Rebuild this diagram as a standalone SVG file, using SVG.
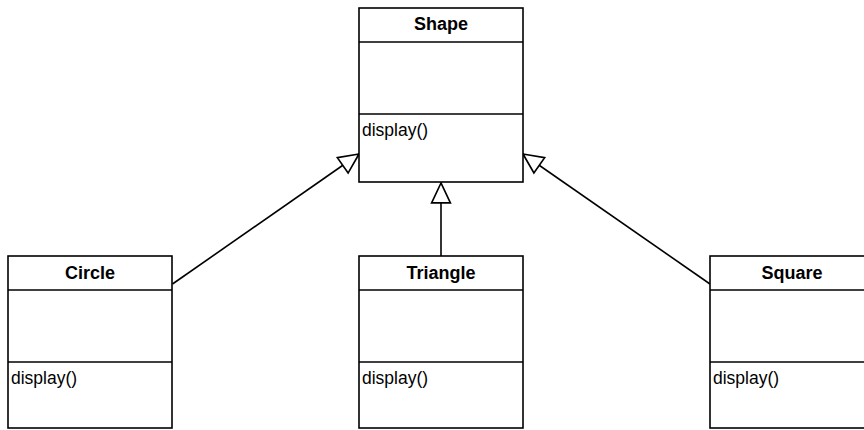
<svg xmlns="http://www.w3.org/2000/svg" width="864" height="430" viewBox="0 0 864 430">
  <style>
    .box { fill: #ffffff; stroke: #000000; stroke-width: 1.6; }
    .sep { stroke: #000000; stroke-width: 1.6; }
    .title { font-family: "Liberation Sans", Arial, sans-serif; font-weight: bold; font-size: 18px; text-anchor: middle; fill: #000000; }
    .op { font-family: "Liberation Sans", Arial, sans-serif; font-size: 17.5px; fill: #000000; }
    .edge { fill: none; stroke: #000000; stroke-width: 1.6; marker-end: url(#generalization); }
  </style>
  <defs>
    <!-- hollow triangle head for inheritance (generalization) -->
    <marker id="generalization" markerUnits="userSpaceOnUse" markerWidth="24" markerHeight="24"
            viewBox="-2 -11 23 22" refX="19" refY="0" orient="auto">
      <path d="M19,0 L0,-9 L0,9 Z" fill="#ffffff" stroke="#000000" stroke-width="1.6"/>
    </marker>
  </defs>

  <rect width="864" height="430" fill="#ffffff"/>

  <g id="connectors">
    <line class="edge" x1="172.5" y1="284" x2="359" y2="154"/>
    <line class="edge" x1="441" y1="256" x2="441" y2="183"/>
    <line class="edge" x1="710" y1="284" x2="523" y2="154"/>
  </g>

  <g id="shape">
    <rect class="box" x="359" y="8" width="164" height="174"/>
    <line class="sep" x1="359" y1="42" x2="523" y2="42"/>
    <line class="sep" x1="359" y1="114" x2="523" y2="114"/>
    <text class="title" x="441" y="30">Shape</text>
    <text class="op" x="362" y="136">display()</text>
  </g>

  <g id="circle">
    <rect class="box" x="8" y="256" width="164" height="172"/>
    <line class="sep" x1="8" y1="290" x2="172" y2="290"/>
    <line class="sep" x1="8" y1="362" x2="172" y2="362"/>
    <text class="title" x="90" y="279">Circle</text>
    <text class="op" x="11" y="384">display()</text>
  </g>

  <g id="triangle">
    <rect class="box" x="359" y="256" width="164" height="172"/>
    <line class="sep" x1="359" y1="290" x2="523" y2="290"/>
    <line class="sep" x1="359" y1="362" x2="523" y2="362"/>
    <text class="title" x="441" y="279">Triangle</text>
    <text class="op" x="362" y="384">display()</text>
  </g>

  <g id="square">
    <rect class="box" x="710" y="256" width="164" height="172"/>
    <line class="sep" x1="710" y1="290" x2="874" y2="290"/>
    <line class="sep" x1="710" y1="362" x2="874" y2="362"/>
    <text class="title" x="792" y="279">Square</text>
    <text class="op" x="713" y="384">display()</text>
  </g>
</svg>
